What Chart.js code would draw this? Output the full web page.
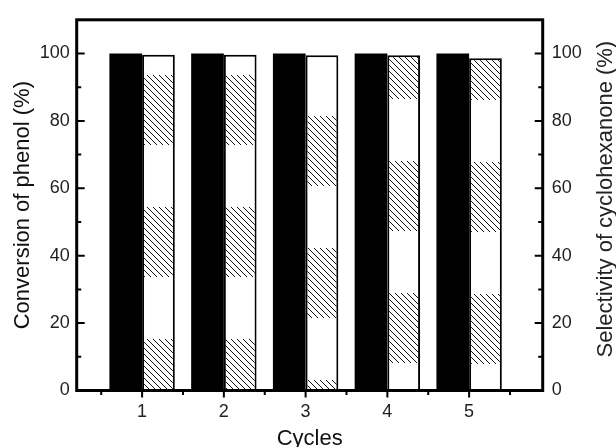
<!DOCTYPE html>
<html><head><meta charset="utf-8">
<script src="https://cdn.jsdelivr.net/npm/chart.js@4.4.1/dist/chart.umd.min.js"></script>
<style>html,body{margin:0;padding:0;background:#fff;} #wrap{width:616px;height:447px;position:relative;}</style>
</head><body><div id="wrap"><canvas id="c" width="616" height="447"></canvas></div>
<script>
const cycles = [1, 2, 3, 4, 5];
const conversion = [100, 100, 100, 100, 100];
const selectivity = [99.6, 99.6, 99.5, 99.5, 98.6];
const yTicks = [0, 20, 40, 60, 80, 100];
const xTitle = 'Cycles';
const yLeftTitle = 'Conversion of phenol (%)';
const yRightTitle = 'Selectivity of cyclohexanone (%)';

const FONT = '"Liberation Sans", Arial, sans-serif';
Chart.defaults.font.family = FONT;
Chart.defaults.color = '#222';

const canvas = document.getElementById('c');
const ctx = canvas.getContext('2d');

// hatch style (banded, as in the scanned figure)
const hatchPhase = [75, 75, 116, 29, 30];
function makeHatch(phase) {
  const W = 6, H = 132, band = 70;
  const c = document.createElement('canvas'); c.width = W; c.height = H;
  const g = c.getContext('2d');
  g.fillStyle = '#fff'; g.fillRect(0, 0, W, H);
  g.save();
  g.beginPath();
  const s = ((phase % H) + H) % H;
  g.rect(0, s, W, Math.min(band, H - s));
  if (s + band > H) g.rect(0, 0, W, s + band - H);
  g.clip();
  g.strokeStyle = '#111'; g.lineWidth = 1.0;
  g.beginPath();
  for (let k = -40; k <= 40; k++) { const a = k * 6; g.moveTo(a - 10, -10); g.lineTo(a + H + 10, H + 10); }
  g.stroke();
  g.restore();
  return ctx.createPattern(c, 'repeat');
}
const patterns = hatchPhase.map(makeHatch);

const frameTicks = {
  id: 'frameTicks',
  afterDatasetsDraw(chart) {
    const { ctx, chartArea: a, scales } = chart;
    ctx.save();
    ctx.strokeStyle = '#000'; ctx.lineWidth = 2;
    ctx.beginPath();
    for (let v = 10; v <= 100; v += 10) {
      const p = scales.y.getPixelForValue(v); const len = v % 20 === 0 ? 8 : 4.5;
      ctx.moveTo(a.left, p); ctx.lineTo(a.left + len, p);
    }
    for (let v = 10; v <= 100; v += 10) {
      const p = scales.y2.getPixelForValue(v); const len = v % 20 === 0 ? 8 : 4.5;
      ctx.moveTo(a.right, p); ctx.lineTo(a.right - len, p);
    }
    for (let v = 0.5; v <= 5.5; v += 0.5) {
      const p = scales.x.getPixelForValue(v); const len = Number.isInteger(v) ? 7 : 4.5;
      ctx.moveTo(p, a.bottom); ctx.lineTo(p, a.bottom + len);
    }
    ctx.stroke();
    ctx.lineWidth = 3;
    ctx.strokeRect(a.left, a.top, a.right - a.left, a.bottom - a.top);
    ctx.fillStyle = '#222';
    ctx.font = '22px ' + FONT;
    ctx.translate(606, (a.top + a.bottom) / 2 - 6);
    ctx.rotate(-Math.PI / 2);
    ctx.textAlign = 'center'; ctx.textBaseline = 'middle';
    ctx.fillText(yRightTitle, 0, 0);
    ctx.restore();
  }
};

new Chart(ctx, {
  type: 'bar',
  data: {
    datasets: [
      { label: 'Conversion', data: cycles.map((c, i) => ({ x: c, y: conversion[i] })), yAxisID: 'y',
        backgroundColor: '#000', borderColor: '#000', borderWidth: 0 },
      { label: 'Selectivity', data: cycles.map((c, i) => ({ x: c, y: selectivity[i] })), yAxisID: 'y2',
        backgroundColor: (c) => patterns[c.dataIndex] || '#fff', borderColor: '#000', borderWidth: 2 }
    ]
  },
  options: {
    responsive: false, animation: false,
    categoryPercentage: 0.8, barPercentage: 1.0,
    layout: { padding: { top: 13.5, left: 0, right: 0, bottom: 0 } },
    plugins: { legend: { display: false }, tooltip: { enabled: false } },
    scales: {
      x: {
        type: 'linear', min: 0.2, max: 5.9, offset: false,
        grid: { display: false, drawTicks: false }, border: { display: false },
        afterBuildTicks(s) { s.ticks = cycles.map(v => ({ value: v })); },
        afterFit(s) { s.height = 56.5; },
        ticks: { padding: 11, color: '#222', font: { size: 18 }, callback: v => String(v) },
        title: { display: true, text: xTitle, color: '#111', font: { size: 22, lineHeight: 1 }, padding: { top: 0, bottom: -3 } }
      },
      y: {
        position: 'left', min: 0, max: 110,
        grid: { display: false, drawTicks: false }, border: { display: false },
        afterBuildTicks(s) { s.ticks = yTicks.map(v => ({ value: v })); },
        afterFit(s) { s.width = 76.7; },
        ticks: { padding: 7, color: '#222', font: { size: 18 } },
        title: { display: true, text: yLeftTitle, color: '#111', font: { size: 22, lineHeight: 1 }, padding: { top: 12, bottom: 0 } }
      },
      y2: {
        position: 'right', min: 0, max: 110,
        grid: { display: false, drawTicks: false }, border: { display: false },
        afterBuildTicks(s) { s.ticks = yTicks.map(v => ({ value: v })); },
        afterFit(s) { s.width = 73.3; },
        ticks: { padding: 9, color: '#222', font: { size: 18 } },
        title: { display: false }
      }
    }
  },
  plugins: [frameTicks]
});
</script>
</body></html>
